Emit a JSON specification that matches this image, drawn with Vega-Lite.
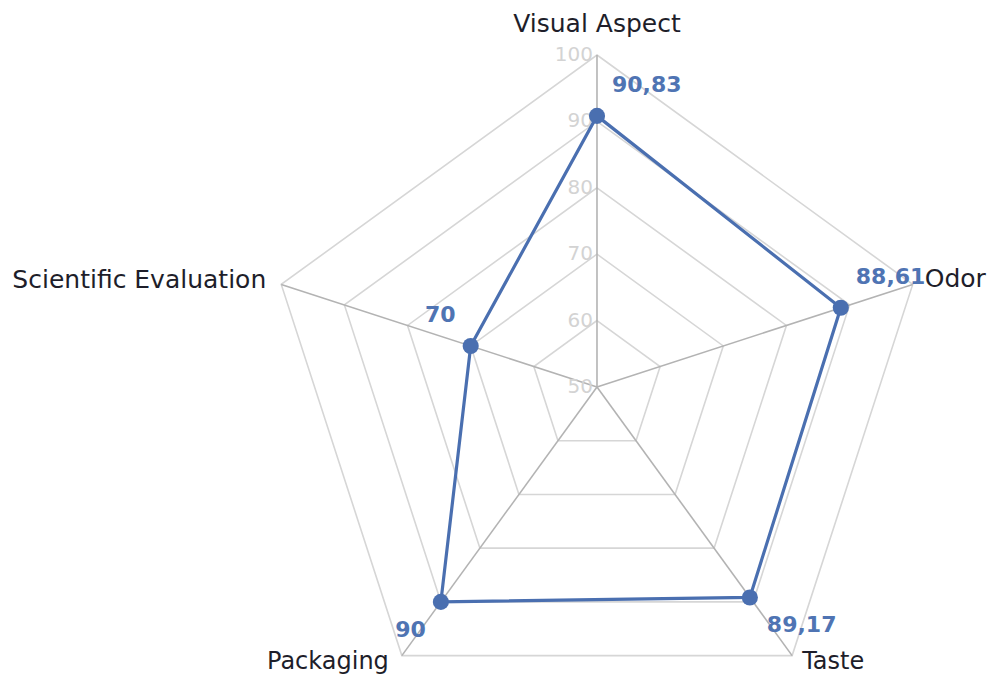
{
  "$schema": "https://vega.github.io/schema/vega-lite/v6.json",
  "width": 990,
  "height": 676,
  "autosize": {"type": "none"},
  "padding": 0,
  "background": "white",
  "config": {"view": {"stroke": null}, "text": {"font": "DejaVu Sans"}},
  "datasets": {
    "scores": [
      {"category": "Visual Aspect", "idx": 0, "value": 90.83, "label": "90,83"},
      {"category": "Odor", "idx": 1, "value": 88.61, "label": "88,61"},
      {"category": "Taste", "idx": 2, "value": 89.17, "label": "89,17"},
      {"category": "Packaging", "idx": 3, "value": 90, "label": "90"},
      {"category": "Scientific Evaluation", "idx": 4, "value": 70, "label": "70"}
    ],
    "grid": [
      {"level": 60, "idx": [0, 1, 2, 3, 4]},
      {"level": 70, "idx": [0, 1, 2, 3, 4]},
      {"level": 80, "idx": [0, 1, 2, 3, 4]},
      {"level": 90, "idx": [0, 1, 2, 3, 4]},
      {"level": 100, "idx": [0, 1, 2, 3, 4]}
    ],
    "ticks": [
      {"level": 50}, {"level": 60}, {"level": 70}, {"level": 80}, {"level": 90}, {"level": 100}
    ]
  },
  "layer": [
    {
      "data": {"name": "grid"},
      "transform": [
        {"flatten": ["idx"]},
        {"calculate": "datum.idx * 2 * PI / 5", "as": "ang"},
        {"calculate": "(datum.level - 50) * sin(datum.ang)", "as": "x"},
        {"calculate": "(datum.level - 50) * cos(datum.ang)", "as": "y"}
      ],
      "mark": {"type": "line", "interpolate": "linear-closed", "stroke": "#d6d6d6", "strokeWidth": 1.6},
      "encoding": {
        "x": {"field": "x", "type": "quantitative", "scale": {"domain": [-89.91, 59.19], "nice": false, "zero": false}, "axis": null},
        "y": {"field": "y", "type": "quantitative", "scale": {"domain": [-43.52, 58.28], "nice": false, "zero": false}, "axis": null},
        "detail": {"field": "level", "type": "nominal"},
        "order": {"field": "idx", "type": "quantitative"}
      }
    },
    {
      "data": {"name": "scores"},
      "transform": [
        {"calculate": "datum.idx * 2 * PI / 5", "as": "ang"},
        {"calculate": "50 * sin(datum.ang)", "as": "x100"},
        {"calculate": "50 * cos(datum.ang)", "as": "y100"}
      ],
      "mark": {"type": "rule", "stroke": "#b3b3b3", "strokeWidth": 1.6},
      "encoding": {
        "x": {"field": "x100", "type": "quantitative"},
        "y": {"field": "y100", "type": "quantitative"},
        "x2": {"datum": 0},
        "y2": {"datum": 0}
      }
    },
    {
      "data": {"name": "ticks"},
      "transform": [
        {"calculate": "0", "as": "x"},
        {"calculate": "datum.level - 50", "as": "y"}
      ],
      "mark": {"type": "text", "align": "right", "baseline": "middle", "dx": -4, "fontSize": 20, "color": "#d3d3d3"},
      "encoding": {
        "x": {"field": "x", "type": "quantitative"},
        "y": {"field": "y", "type": "quantitative"},
        "text": {"field": "level", "type": "quantitative"}
      }
    },
    {
      "data": {"name": "scores"},
      "transform": [
        {"calculate": "datum.idx * 2 * PI / 5", "as": "ang"},
        {"calculate": "(datum.value - 50) * sin(datum.ang)", "as": "x"},
        {"calculate": "(datum.value - 50) * cos(datum.ang)", "as": "y"}
      ],
      "layer": [
        {
          "mark": {"type": "line", "interpolate": "linear-closed", "stroke": "#4a6fb0", "strokeWidth": 3.2},
          "encoding": {
            "x": {"field": "x", "type": "quantitative"},
            "y": {"field": "y", "type": "quantitative"},
            "order": {"field": "idx", "type": "quantitative"}
          }
        },
        {
          "mark": {"type": "point", "shape": "circle", "filled": true, "size": 260, "color": "#4a6fb0", "opacity": 1},
          "encoding": {
            "x": {"field": "x", "type": "quantitative"},
            "y": {"field": "y", "type": "quantitative"}
          }
        },
        {
          "transform": [{"filter": "datum.idx <= 1"}],
          "mark": {"type": "text", "align": "left", "baseline": "middle", "dx": 15, "dy": -31, "fontSize": 22, "fontWeight": "bold", "color": "#4f74b3"},
          "encoding": {"x": {"field": "x", "type": "quantitative"}, "y": {"field": "y", "type": "quantitative"}, "text": {"field": "label"}}
        },
        {
          "transform": [{"filter": "datum.idx == 2"}],
          "mark": {"type": "text", "align": "left", "baseline": "middle", "dx": 17, "dy": 28, "fontSize": 22, "fontWeight": "bold", "color": "#4f74b3"},
          "encoding": {"x": {"field": "x", "type": "quantitative"}, "y": {"field": "y", "type": "quantitative"}, "text": {"field": "label"}}
        },
        {
          "transform": [{"filter": "datum.idx == 3"}],
          "mark": {"type": "text", "align": "right", "baseline": "middle", "dx": -15, "dy": 28, "fontSize": 22, "fontWeight": "bold", "color": "#4f74b3"},
          "encoding": {"x": {"field": "x", "type": "quantitative"}, "y": {"field": "y", "type": "quantitative"}, "text": {"field": "label"}}
        },
        {
          "transform": [{"filter": "datum.idx == 4"}],
          "mark": {"type": "text", "align": "right", "baseline": "middle", "dx": -15, "dy": -31, "fontSize": 22, "fontWeight": "bold", "color": "#4f74b3"},
          "encoding": {"x": {"field": "x", "type": "quantitative"}, "y": {"field": "y", "type": "quantitative"}, "text": {"field": "label"}}
        }
      ]
    },
    {
      "data": {"name": "scores"},
      "transform": [
        {"calculate": "datum.idx * 2 * PI / 5", "as": "ang"},
        {"calculate": "50 * sin(datum.ang)", "as": "x"},
        {"calculate": "50 * cos(datum.ang)", "as": "y"}
      ],
      "layer": [
        {
          "transform": [{"filter": "datum.idx == 0"}],
          "mark": {"type": "text", "align": "center", "baseline": "alphabetic", "dy": -23, "fontSize": 25, "color": "#1e1e2a"},
          "encoding": {"x": {"field": "x", "type": "quantitative"}, "y": {"field": "y", "type": "quantitative"}, "text": {"field": "category"}}
        },
        {
          "transform": [{"filter": "datum.idx == 1"}],
          "mark": {"type": "text", "align": "left", "baseline": "middle", "dx": 12, "dy": -5, "fontSize": 25, "color": "#1e1e2a"},
          "encoding": {"x": {"field": "x", "type": "quantitative"}, "y": {"field": "y", "type": "quantitative"}, "text": {"field": "category"}}
        },
        {
          "transform": [{"filter": "datum.idx == 2"}],
          "mark": {"type": "text", "align": "left", "baseline": "alphabetic", "dx": 10, "dy": 13, "fontSize": 24, "color": "#1e1e2a"},
          "encoding": {"x": {"field": "x", "type": "quantitative"}, "y": {"field": "y", "type": "quantitative"}, "text": {"field": "category"}}
        },
        {
          "transform": [{"filter": "datum.idx == 3"}],
          "mark": {"type": "text", "align": "right", "baseline": "alphabetic", "dx": -13, "dy": 13, "fontSize": 24, "color": "#1e1e2a"},
          "encoding": {"x": {"field": "x", "type": "quantitative"}, "y": {"field": "y", "type": "quantitative"}, "text": {"field": "category"}}
        },
        {
          "transform": [{"filter": "datum.idx == 4"}],
          "mark": {"type": "text", "align": "right", "baseline": "middle", "dx": -15, "dy": -4, "fontSize": 25, "color": "#1e1e2a"},
          "encoding": {"x": {"field": "x", "type": "quantitative"}, "y": {"field": "y", "type": "quantitative"}, "text": {"field": "category"}}
        }
      ]
    }
  ]
}
